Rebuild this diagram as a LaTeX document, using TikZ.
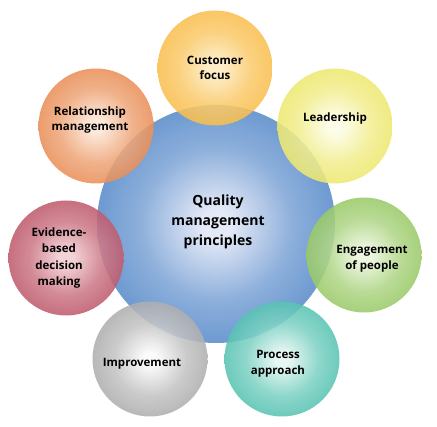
\documentclass[tikz,border=0pt]{standalone}
\usepackage{fontspec}
\setsansfont{Open Sans}
\usetikzlibrary{calc}

\definecolor{qmblue}{HTML}{4680C4}
\definecolor{qmbluein}{HTML}{E4E9F7}
\definecolor{qmorange}{HTML}{F7B02A}
\definecolor{qmorangein}{HTML}{FEEBC0}
\definecolor{qmyellow}{HTML}{E8E24A}
\definecolor{qmyellowin}{HTML}{FDFCE6}
\definecolor{qmgreen}{HTML}{80BC42}
\definecolor{qmgreenin}{HTML}{EAF5DC}
\definecolor{qmteal}{HTML}{2AB39E}
\definecolor{qmtealin}{HTML}{E4F6F2}
\definecolor{qmgrey}{HTML}{969698}
\definecolor{qmgreyin}{HTML}{FAFAFA}
\definecolor{qmred}{HTML}{AE364D}
\definecolor{qmredin}{HTML}{F2CDD1}
\definecolor{qmrust}{HTML}{E37330}
\definecolor{qmrustin}{HTML}{FCE6D6}

\colorlet{ballin}{white}
\colorlet{ballout}{black}
\pgfdeclareradialshading[ballin,ballout]{softball}{\pgfpoint{0bp}{0bp}}{color(0bp)=(ballin); color(3bp)=(ballin); color(16bp)=(ballin!45!ballout); color(36bp)=(ballout); color(48bp)=(ballout!95!black); color(50bp)=(ballout!90!black); color(100bp)=(ballout!90!black)}

\tikzset{
	ball/.style 2 args = {circle, inner sep=0pt,
		/utils/exec={\colorlet{ballout}{#1}\colorlet{ballin}{#2}}, shading=softball},
	hub/.style = {ball={qmblue}{qmbluein}, minimum size=238pt},
	principle/.style = {minimum size=115pt, fill opacity=0.88},
	caption/.style = {align=center, text=black, inner sep=0pt,
		font=\sffamily\bfseries\fontsize{11.5}{15.5}\selectfont},
	bigcaption/.style = {caption, font=\sffamily\bfseries\fontsize{14}{20}\selectfont}
}

\begin{document}
\begin{tikzpicture}[x=1pt, y=-1pt]
	\useasboundingbox (0,0) rectangle (437,427);
	\node[hub] (quality) at (216,224) {};
	\node[ball={qmorange}{qmorangein}, principle] (customer) at (215,68) {};
	\node[ball={qmyellow}{qmyellowin}, principle] (leadership) at (335,126) {};
	\node[ball={qmgreen}{qmgreenin}, principle] (engagement) at (364,255) {};
	\node[ball={qmteal}{qmtealin}, principle] (process) at (282,359) {};
	\node[ball={qmgrey}{qmgreyin}, principle] (improvement) at (150,359) {};
	\node[ball={qmred}{qmredin}, principle] (evidence) at (66,258) {};
	\node[ball={qmrust}{qmrustin}, principle] (relationship) at (96,126) {};

	\node[bigcaption] (quality text) at ($(quality)+(2,-2)$) {Quality\\management\\principles};
	\node[caption] (customer text) at ($(customer)+(0,0)$) {Customer\\focus};
	\node[caption] (leadership text) at ($(leadership)+(0,-7)$) {Leadership};
	\node[caption] (engagement text) at ($(engagement)+(8,4)$) {Engagement\\of people};
	\node[caption] (process text) at ($(process)+(-4,5)$) {Process\\approach};
	\node[caption] (improvement text) at ($(improvement)+(-8,5)$) {Improvement};
	\node[caption, font=\sffamily\bfseries\fontsize{11.5}{16.5}\selectfont] (evidence text) at ($(evidence)+(-7,0)$) {Evidence-\\based\\decision\\making};
	\node[caption] (relationship text) at ($(relationship)+(-6,-6)$) {Relationship\\management};
\end{tikzpicture}
\end{document}
